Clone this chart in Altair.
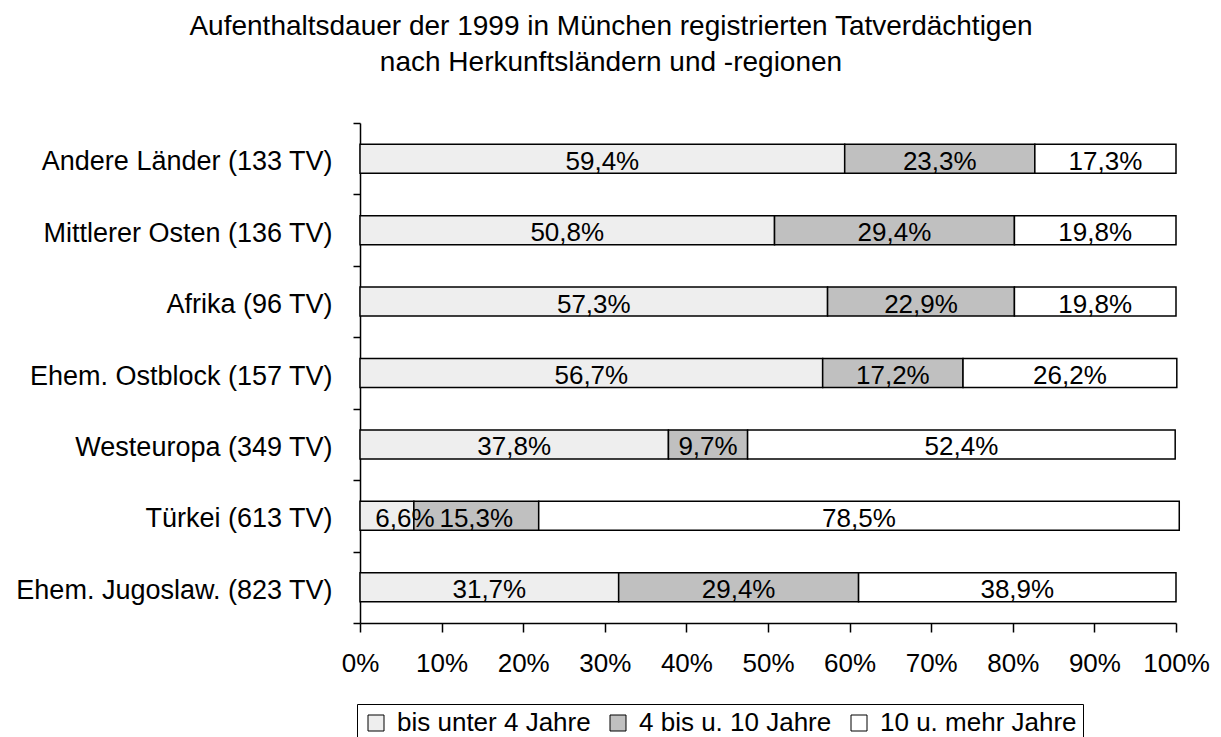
import altair as alt
import pandas as pd

categories = [
    "Andere Länder (133 TV)",
    "Mittlerer Osten (136 TV)",
    "Afrika (96 TV)",
    "Ehem. Ostblock (157 TV)",
    "Westeuropa (349 TV)",
    "Türkei (613 TV)",
    "Ehem. Jugoslaw. (823 TV)",
]
series_names = ["bis unter 4 Jahre", "4 bis u. 10 Jahre", "10 u. mehr Jahre"]
bis_unter_4 = [59.4, 50.8, 57.3, 56.7, 37.8, 6.6, 31.7]
vier_bis_10 = [23.3, 29.4, 22.9, 17.2, 9.7, 15.3, 29.4]
zehn_und_mehr = [17.3, 19.8, 19.8, 26.2, 52.4, 78.5, 38.9]
tick_values = [0, 10, 20, 30, 40, 50, 60, 70, 80, 90, 100]
colors = ["#EEEEEE", "#C0C0C0", "#FFFFFF"]

FONT = "Liberation Sans"

rows = []
for i, cat in enumerate(categories):
    start = 0.0
    for k, vals in enumerate([bis_unter_4, vier_bis_10, zehn_und_mehr]):
        v = vals[i]
        end = start + v
        mid = (start + end) / 2
        rows.append({
            "cat": cat,
            "series": series_names[k],
            "order": k,
            "start": start,
            "end": end,
            "mid": max(mid, 5.5),
            "label": f"{v:.1f}".replace(".", ",") + "%",
        })
        start = end
df = pd.DataFrame(rows)

y_enc = alt.Y(
    "cat:N",
    sort=categories,
    scale=alt.Scale(paddingInner=0, paddingOuter=0),
    axis=alt.Axis(
        title=None,
        tickBand="extent",
        tickSize=7,
        labelPadding=21,
        labelFontSize=27,
        labelOffset=3,
        labelLimit=400,
    ),
)

x_scale = alt.Scale(domain=[0, 100], nice=False, clamp=False)

bars = alt.Chart(df).mark_bar(stroke="black", strokeWidth=1.5, opacity=1, size=29).encode(
    y=y_enc,
    x=alt.X(
        "start:Q",
        scale=x_scale,
        axis=alt.Axis(
            title=None,
            values=tick_values,
            labelExpr="datum.value + '%'",
            grid=False,
            tickSize=9,
            labelPadding=18,
            labelFontSize=26,
            labelOverlap=False,
            labelFlush=False,
        ),
    ),
    x2="end:Q",
    color=alt.Color(
        "series:N",
        sort=series_names,
        scale=alt.Scale(domain=series_names, range=colors),
        legend=alt.Legend(
            title=None,
            orient="none",
            legendX=-3,
            legendY=581,
            direction="horizontal",
            strokeColor="black",
            padding=6,
            symbolType="square",
            symbolSize=256,
            symbolStrokeColor="black",
            symbolStrokeWidth=1,
            symbolOpacity=1,
            labelFontSize=26,
            labelFont=FONT,
            labelColor="black",
            labelOffset=8,
            labelLimit=400,
            columnPadding=14,
        ),
    ),
    order=alt.Order("order:Q"),
)

texts = alt.Chart(df).mark_text(
    font=FONT, fontSize=26, color="black", baseline="middle", align="center", dy=3
).encode(
    y=alt.Y("cat:N", sort=categories),
    x=alt.X("mid:Q", scale=x_scale),
    text="label:N",
)

chart = (
    alt.layer(bars, texts)
    .properties(
        width=816,
        height=500,
        autosize=alt.AutoSizeParams(type="none"),
        padding={"left": 352, "top": 115, "right": 34, "bottom": 120},
        title=alt.TitleParams(
            text=[
                "Aufenthaltsdauer der 1999 in München registrierten Tatverdächtigen",
                "nach Herkunftsländern und -regionen",
            ],
            font=FONT,
            fontSize=28,
            fontWeight="normal",
            color="black",
            anchor="middle",
            dx=-157,
            lineHeight=36,
            offset=32,
        ),
    )
    .configure_view(stroke=None)
    .configure_axis(
        domainColor="black",
        domainWidth=1.5,
        tickColor="black",
        tickWidth=1.5,
        labelColor="black",
        labelFont=FONT,
    )
)

chart.save("out.html", embed_options={"renderer": "svg", "actions": False})
